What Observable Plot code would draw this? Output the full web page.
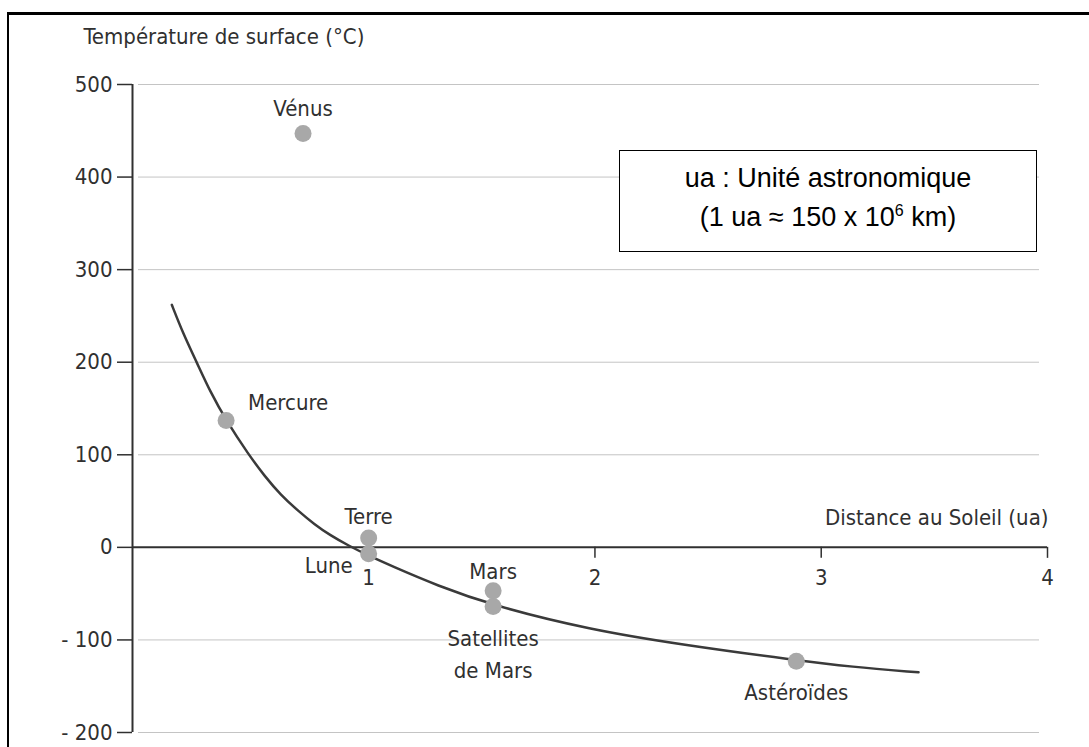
<!DOCTYPE html>
<html>
<head>
<meta charset="utf-8">
<script src="https://cdn.jsdelivr.net/npm/d3@7"></script>
<script src="https://cdn.jsdelivr.net/npm/@observablehq/plot@0.6"></script>
<style>
  html, body { margin: 0; padding: 0; background: #fff; }
  #wrap { position: relative; width: 1089px; height: 747px; overflow: hidden; }
  #wrap svg { position: absolute; left: 0; top: 0; }
  #border { position: absolute; left: 7px; top: 12px; width: 1200px; height: 900px;
            border-left: 2px solid #000; border-top: 3px solid #000; pointer-events: none; }
  #note { position: absolute; left: 619px; top: 150px; width: 416px; height: 100px;
          border: 1px solid #000; background: #fff; font-family: "Liberation Sans", Arial, sans-serif;
          font-size: 27px; color: #000; text-align: center; line-height: 39px; box-sizing: content-box;
          display: flex; flex-direction: column; justify-content: center; }
  #note .inner { position: relative; top: -3px; }
  #note sup { font-size: 16px; line-height: 0; vertical-align: 10px; }
</style>
</head>
<body>
<div id="wrap">
  <div id="chart"></div>
  <div id="note"><div class="inner"><div>ua : Unité astronomique</div><div>(1 ua ≈ 150 x 10<sup>6</sup> km)</div></div></div>
  <div id="border"></div>
</div>
<script>
// ---- data ----
const bodyNames = ["Vénus", "Mercure", "Terre", "Lune", "Mars", "Satellites\nde Mars", "Astéroïdes"];
const bodyDist  = [0.71, 0.37, 1.0, 1.0, 1.55, 1.55, 2.89];
const bodyTemp  = [447, 137, 10, -7, -47, -64, -123];

const curveDist = [0.13, 0.18, 0.24, 0.30, 0.37, 0.47, 0.54, 0.61, 0.69, 0.76, 0.83, 0.91, 1.0, 1.1, 1.3, 1.55, 1.98, 2.38, 2.89, 3.13, 3.43];
const curveTemp = [262, 231, 200, 168, 137, 100, 77, 57, 39, 25, 13, 2, -9, -20, -41, -63, -89, -105, -122, -129, -135];

const yTicks = [500, 400, 300, 200, 100, 0, -100, -200];
const xTicks = [1, 2, 3, 4];

const yTitle = "Température de surface (°C)";
const xTitle = "Distance au Soleil (ua)";

// ---- build ----
const bodies = bodyNames.map((n, i) => ({name: n, d: bodyDist[i], t: bodyTemp[i]}));
const curve = curveDist.map((d, i) => ({d, t: curveTemp[i]}));

const labelPlacement = {
  "Vénus":               {anchor: "middle", dx: 0,   dy: -28},
  "Mercure":             {anchor: "start",  dx: 22,  dy: -21},
  "Terre":               {anchor: "middle", dx: 0,   dy: -24},
  "Lune":                {anchor: "end",    dx: -16, dy: 9},
  "Mars":                {anchor: "middle", dx: 0,   dy: -22},
  "Satellites\nde Mars": {anchor: "middle", dx: 0,   dy: 45},
  "Astéroïdes":          {anchor: "middle", dx: 0,   dy: 29}
};

const xMin = -0.0437, xMax = 4;
const font = '"Liberation Sans Narrow", "DejaVu Sans Condensed", "Roboto", sans-serif';
const ink = "#303030";
const fs = 22;

const labelMarks = ["start", "middle", "end"].flatMap(anchor =>
  bodies.filter(b => labelPlacement[b.name].anchor === anchor).map(b =>
    Plot.text([b], {x: "d", y: "t", text: "name", textAnchor: anchor,
      dx: labelPlacement[b.name].dx, dy: labelPlacement[b.name].dy,
      fontSize: fs, fill: ink, lineHeight: 1.45})
  )
);

const chart = Plot.plot({
  width: 1089,
  height: 747,
  marginLeft: 132,
  marginRight: 42,
  marginTop: 84,
  marginBottom: 15,
  x: {domain: [xMin, xMax], axis: null},
  y: {domain: [-200, 500], axis: null},
  style: {fontFamily: font, background: "transparent", overflow: "visible"},
  marks: [
    Plot.gridY(yTicks.filter(v => v !== 0), {stroke: "#c4c4c4", strokeOpacity: 1, strokeWidth: 1, insetLeft: 6, insetRight: 8}),
    Plot.ruleX([xMin], {y1: -200, y2: 500, stroke: ink, strokeWidth: 2}),
    Plot.axisY(yTicks, {label: null, tickSize: 15, tickPadding: 5, fontSize: fs, color: ink, strokeWidth: 1.5,
      tickFormat: v => v < 0 ? "- " + Math.abs(v) : String(v)}),
    Plot.ruleY([0], {x1: xMin, x2: xMax, stroke: ink, strokeWidth: 2}),
    Plot.ruleX(xTicks, {x: d => d, y1: 0, y2: 0, insetBottom: -11, stroke: ink, strokeWidth: 1.5}),
    Plot.text(xTicks, {x: d => d, y: 0, dy: 31, text: d => String(d), fontSize: fs, fill: ink}),
    Plot.text([xTitle], {x: xMax, y: 0, dx: 1, dy: -29, text: d => d, textAnchor: "end", fontSize: fs, fill: ink}),
    Plot.text([yTitle], {frameAnchor: "top-left", dx: -49, dy: -48, text: d => d, textAnchor: "start", lineAnchor: "middle", fontSize: fs, fill: ink}),
    Plot.line(curve, {x: "d", y: "t", curve: "basis", stroke: "#3a3a3a", strokeWidth: 2.5}),
    Plot.dot(bodies, {x: "d", y: "t", r: 8.5, fill: "#a8a8a8", stroke: "none"}),
    ...labelMarks
  ]
});
document.getElementById("chart").appendChild(chart);
</script>
</body>
</html>
